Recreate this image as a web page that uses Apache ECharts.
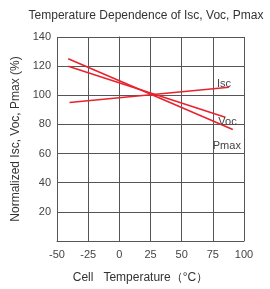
<!DOCTYPE html>
<html>
<head>
<meta charset="utf-8">
<script src="https://cdn.jsdelivr.net/npm/echarts@6/dist/echarts.min.js"></script>
<style>
  html, body { margin: 0; padding: 0; background: #fff; }
  #chart { width: 270px; height: 289px; }
</style>
</head>
<body>
<div id="chart"></div>
<script>
// end points (temperature, normalized %)
var iscTemp = [-40, 88];
var iscVal = [95, 105.5];
var vocTemp = [-41, 85];
var vocVal = [120, 85];
var pmaxTemp = [-41, 91];
var pmaxVal = [125, 76.5];
var seriesNames = ['Isc', 'Voc', 'Pmax'];

function pairs (xs, ys) {
  var out = [];
  for (var i = 0; i < xs.length; i++) {
    out.push([xs[i], ys[i]]);
  }
  return out;
}

var font = 'Liberation Sans, Arial, sans-serif';
var red = '#e8232e';

var chart = echarts.init(document.getElementById('chart'));
chart.setOption({
  animation: false,
  title: {
    text: 'Temperature Dependence of Isc, Voc, Pmax',
    left: 141,
    top: 5,
    textAlign: 'center',
    textStyle: { fontFamily: font, fontSize: 12, fontWeight: 'normal', color: '#333' }
  },
  grid: { left: 57, right: 26, top: 37, bottom: 41 },
  xAxis: {
    type: 'value',
    min: -50,
    max: 100,
    interval: 25,
    name: 'Cell   Temperature（°C）',
    nameLocation: 'middle',
    nameGap: 31,
    nameTextStyle: { fontFamily: font, fontSize: 12, color: '#333', padding: [0, 20, 0, 0] },
    axisLine: { lineStyle: { color: '#555' } },
    axisTick: { show: false },
    axisLabel: { fontFamily: font, fontSize: 11, color: '#444', margin: 8 },
    splitLine: { lineStyle: { color: '#555', width: 1 } }
  },
  yAxis: {
    type: 'value',
    min: 0,
    max: 140,
    interval: 20,
    name: 'Normalized Isc, Voc, Pmax (%)',
    nameLocation: 'middle',
    nameGap: 31,
    nameTextStyle: { fontFamily: font, fontSize: 12, color: '#333' },
    axisLine: { show: true, lineStyle: { color: '#555' } },
    axisTick: { show: true, length: 3, lineStyle: { color: '#555' } },
    axisLabel: {
      fontFamily: font, fontSize: 11, color: '#444', margin: 6,
      formatter: function (v) { return v === 0 ? '' : v; }
    },
    splitLine: { lineStyle: { color: '#555', width: 1 } }
  },
  series: [{
    name: seriesNames[0],
    type: 'line',
    symbol: 'none',
    lineStyle: { color: red, width: 1.6 },
    data: pairs(iscTemp, iscVal),
    endLabel: {
      show: true, formatter: '{a}', offset: [-20, -3],
      fontFamily: font, fontSize: 11, color: '#444'
    }
  }, {
    name: seriesNames[1],
    type: 'line',
    symbol: 'none',
    lineStyle: { color: red, width: 1.6 },
    data: pairs(vocTemp, vocVal),
    endLabel: {
      show: true, formatter: '{a}', offset: [-15, 5],
      fontFamily: font, fontSize: 11, color: '#444'
    }
  }, {
    name: seriesNames[2],
    type: 'line',
    symbol: 'none',
    lineStyle: { color: red, width: 1.6 },
    data: pairs(pmaxTemp, pmaxVal),
    endLabel: {
      show: true, formatter: '{a}', offset: [-28, 16],
      fontFamily: font, fontSize: 11, color: '#444'
    }
  }]
});
</script>
</body>
</html>
